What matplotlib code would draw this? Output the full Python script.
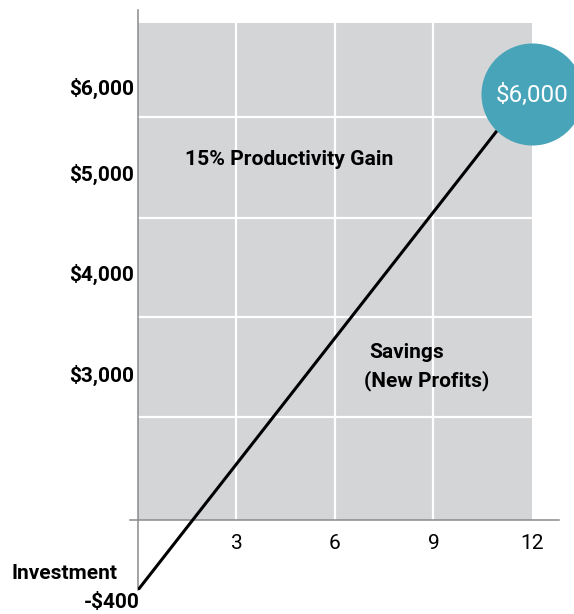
import numpy as np
import matplotlib
matplotlib.use('Agg')
import matplotlib.pyplot as plt
from matplotlib.transforms import offset_copy

# ── Data ──────────────────────────────────────────────────────────────────────
months = [0, 12]
value = [-400, 6000]                     # investment -> savings after 12 months
x_ticks = [3, 6, 9, 12]
y_ticks = [3000, 4000, 5000, 6000]
y_tick_labels = ["$3,000", "$4,000", "$5,000", "$6,000"]
end_label = "$6,000"
start_label = "-$400"

# ── Style ─────────────────────────────────────────────────────────────────────
GRAY_BG = "#d4d5d7"
TEAL = "#48a4b9"
AXIS_GRAY = "#8a8a8a"
plt.rcParams['font.family'] = ['Roboto', 'DejaVu Sans']

# the original is a schematic: the value axis is not linear, so a piecewise
# scale (value -> pixels above the zero line) is used
Y_KNOTS = [-1000, -400, 0, 3000, 5000, 6000, 8000]
V_KNOTS = [-175, -70, 0, 147, 348, 434, 612]

def fwd(y):
    return np.interp(y, Y_KNOTS, V_KNOTS)

def inv(v):
    return np.interp(v, V_KNOTS, Y_KNOTS)

fig = plt.figure(figsize=(5.74, 6.14), dpi=100)
ax = fig.add_axes([138 / 574, 24 / 614, 421 / 574, 580 / 614])
ax.set_yscale('function', functions=(fwd, inv))
ax.set_xlim(0, 421 / 32.83)
ax.set_ylim(-400, inv(510))

# gray panel with white grid (decoration)
top = inv(497)
ax.fill_between([0, 12], 0, top, color=GRAY_BG, lw=0, zorder=0)
for gx in [3, 6, 9]:
    ax.plot([gx, gx], [0, top], color="white", lw=1.6, zorder=1)
for gv in [103, 203, 302, 403]:
    ax.plot([0, 12], [inv(gv), inv(gv)], color="white", lw=1.6, zorder=1)

ax.axhline(0, xmin=-8 / 421, xmax=1, color=AXIS_GRAY, lw=1.1, clip_on=False, zorder=2)

ax.plot(months, value, color="black", lw=2.2, solid_capstyle="butt", zorder=3)

# end bubble, nudged a little below the end point as in the original
bubble = offset_copy(ax.transData, fig=fig, x=0, y=-6, units="points")
ax.scatter([months[-1]], [value[-1]], s=5400, color=TEAL, zorder=4, clip_on=False,
           lw=0, transform=bubble)
ax.annotate(end_label, (months[-1], value[-1]), xytext=(0, -7), textcoords="offset points",
            ha="center", va="center", color="white", fontsize=17.5, zorder=5,
            annotation_clip=False)

ax.annotate(start_label, (months[0], value[0]), xytext=(-19, -9), textcoords="offset points",
            ha="center", va="center", fontsize=15, fontweight="bold", annotation_clip=False)
ax.annotate("Investment", (months[0], value[0]), xytext=(-53, 12), textcoords="offset points",
            ha="center", va="center", fontsize=15, fontweight="bold", annotation_clip=False)

ax.text(0.1116, 0.742, "15% Productivity Gain", transform=ax.transAxes,
        ha="left", va="center", fontsize=15.2, fontweight="bold")
ax.text(0.5487, 0.4103, "Savings", transform=ax.transAxes,
        ha="left", va="center", fontsize=15, fontweight="bold")
ax.text(0.5368, 0.3603, "(New Profits)", transform=ax.transAxes,
        ha="left", va="center", fontsize=15, fontweight="bold")

# axes
for s in ["top", "right", "bottom"]:
    ax.spines[s].set_visible(False)
ax.spines["bottom"].set_position(("data", 0))
ax.spines["left"].set_color(AXIS_GRAY)
ax.spines["left"].set_linewidth(1.1)

ax.set_xticks(x_ticks)
ax.set_xticklabels([str(t) for t in x_ticks])
ax.set_yticks(y_ticks)
ax.set_yticklabels(y_tick_labels, fontweight="bold")
ax.minorticks_off()
ax.tick_params(axis="x", length=0, pad=10, labelsize=15)
ax.tick_params(axis="y", length=0, pad=3, labelsize=15)

fig.savefig("out.png", dpi=100)
